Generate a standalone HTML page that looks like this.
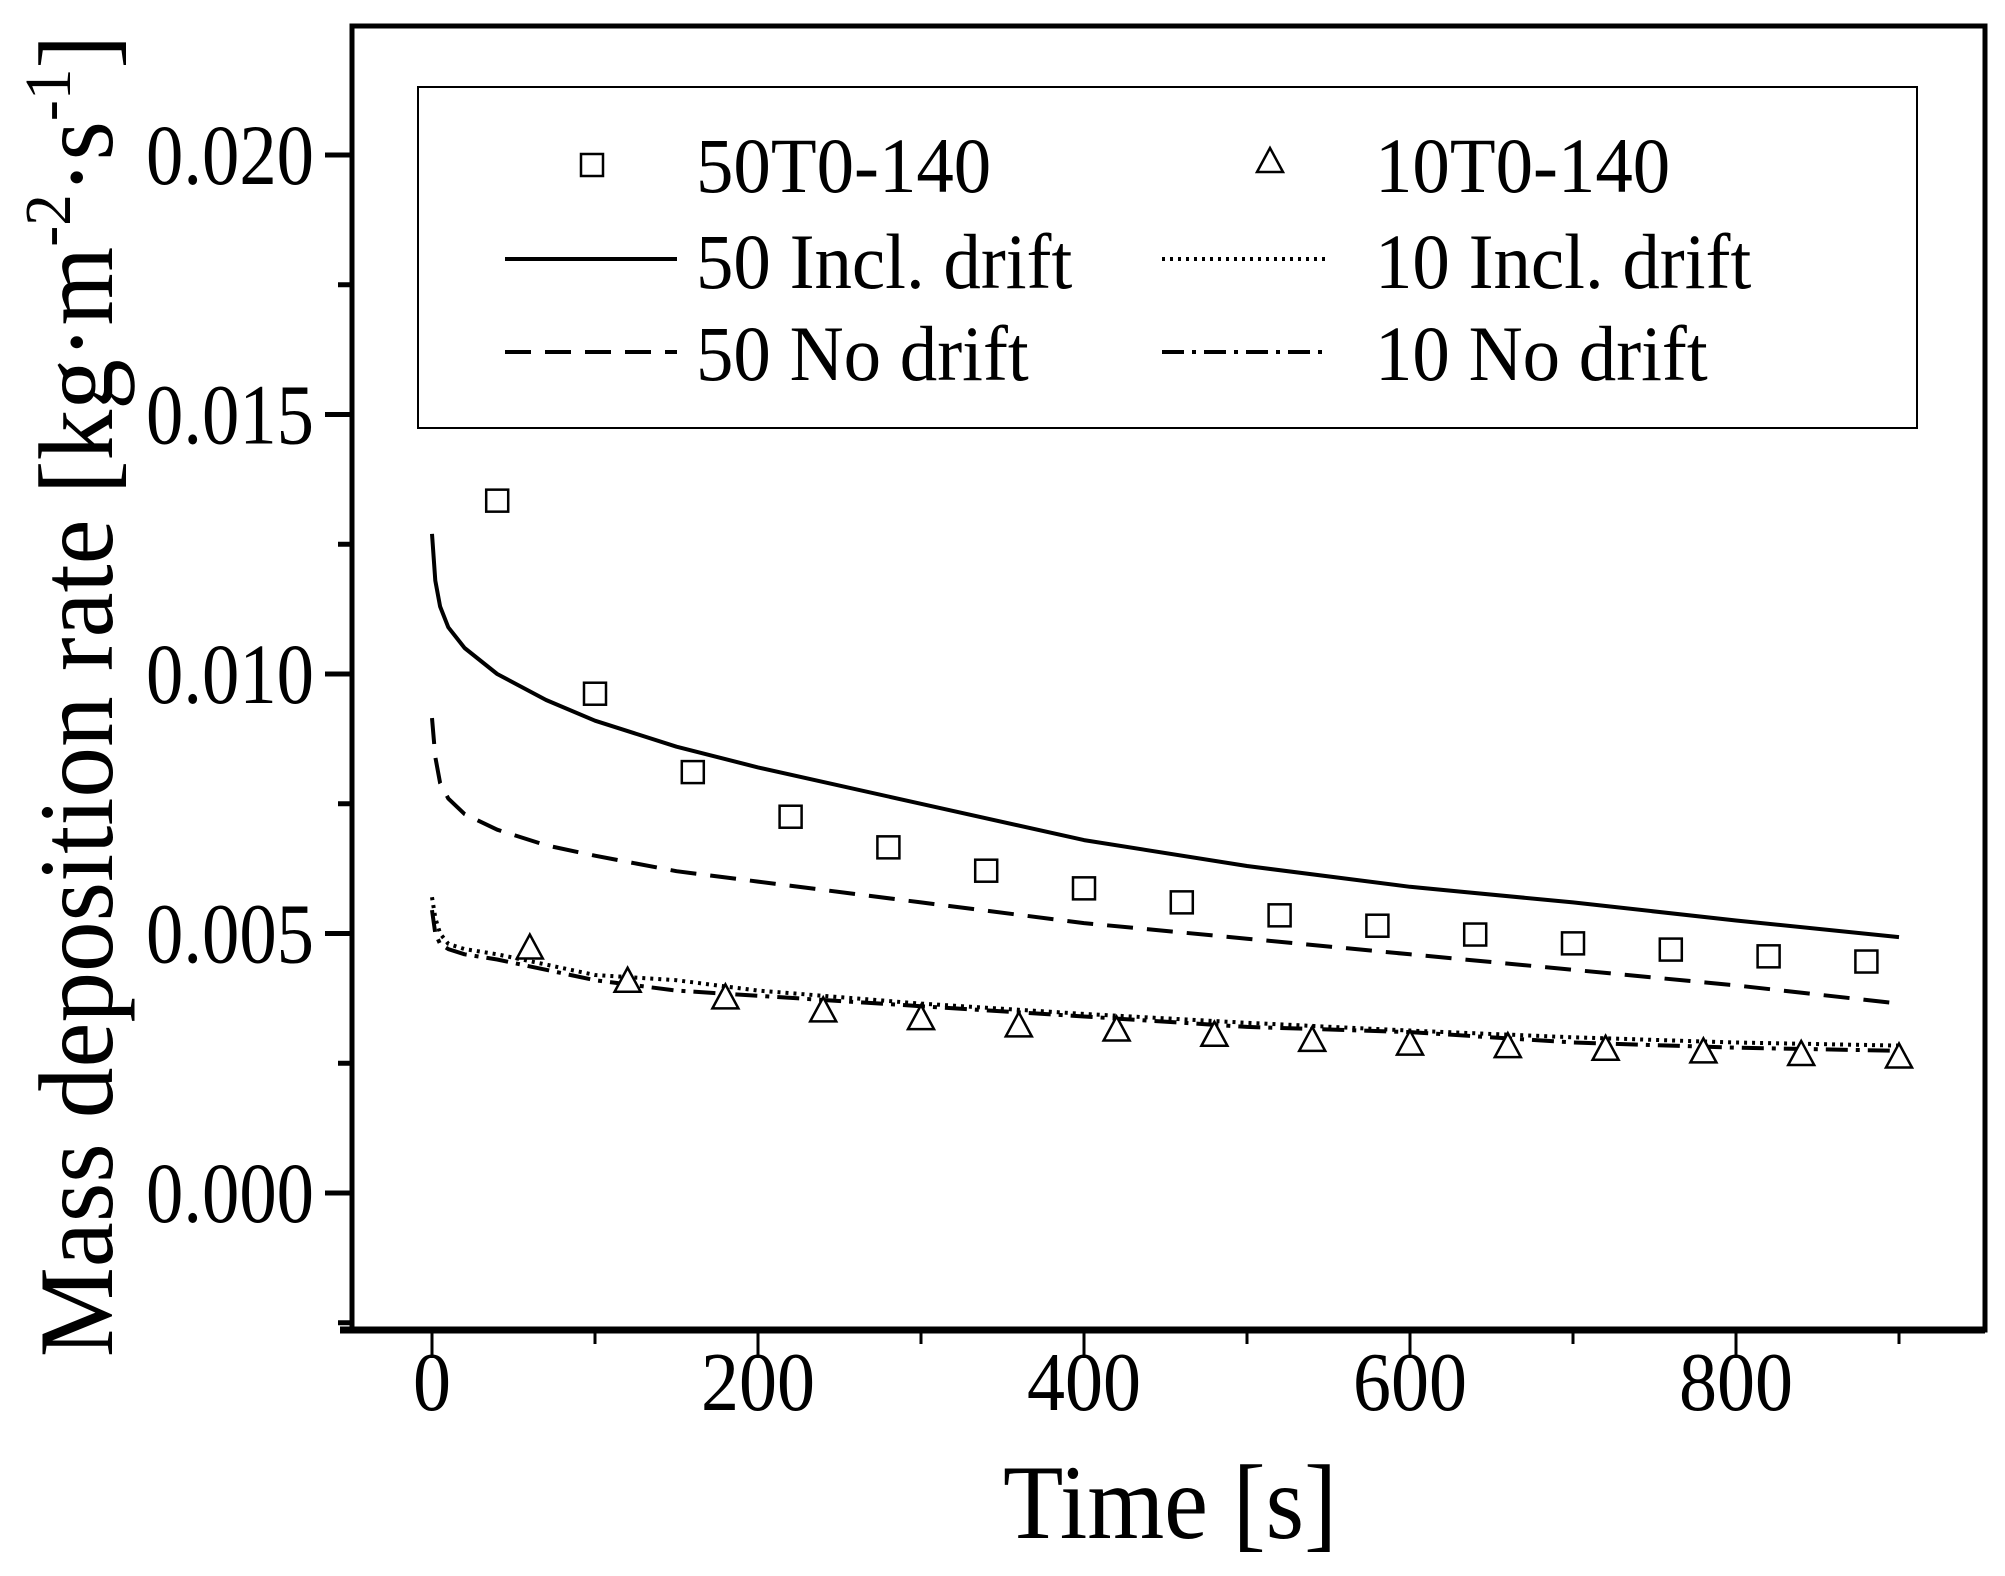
<!DOCTYPE html>
<html><head><meta charset="utf-8"><style>
html,body{margin:0;padding:0;background:#fff;}
svg text{font-family:"Liberation Serif",serif;fill:#000;}
</style></head><body>
<svg id="chart" width="2005" height="1571" viewBox="0 0 2005 1571" xmlns="http://www.w3.org/2000/svg">
<g id="plot"></g>
</svg>
<script>
const timesCurve = [0,2,5,10,20,40,70,100,150,200,300,400,500,600,700,800,900];
const incl50 = [0.0127,0.0118,0.0113,0.0109,0.0105,0.0100,0.0095,0.0091,0.0086,0.0082,0.0075,0.0068,0.0063,0.0059,0.0056,0.00525,0.00493];
const nodrift50 = [0.00915,0.0084,0.0079,0.0076,0.0073,0.0070,0.0067,0.0065,0.0062,0.0060,0.0056,0.0052,0.0049,0.0046,0.0043,0.0040,0.00365];
const incl10 = [0.0057,0.0053,0.0050,0.0048,0.0047,0.0046,0.0044,0.0042,0.0041,0.0039,0.00365,0.00345,0.00328,0.00313,0.0030,0.0029,0.00284];
const nodrift10 = [0.00545,0.0050,0.0048,0.0047,0.0046,0.0045,0.0043,0.0041,0.0039,0.0038,0.0036,0.0034,0.0032,0.0031,0.0029,0.0028,0.00274];
const timesSq = [40,100,160,220,280,340,400,460,520,580,640,700,760,820,880];
const exp50 = [0.01334,0.00962,0.00811,0.00725,0.00666,0.00621,0.00587,0.0056,0.00535,0.00515,0.00498,0.00481,0.00469,0.00456,0.00446];
const timesTri = [60,120,180,240,300,360,420,480,540,600,660,720,780,840,900];
const exp10 = [0.00471,0.00407,0.00375,0.0035,0.00335,0.00321,0.00313,0.00303,0.00293,0.00286,0.00281,0.00276,0.00271,0.00266,0.00261];
const xTicks = [0,200,400,600,800];
const xTickLabels = ["0","200","400","600","800"];
const yTicks = [0,0.005,0.010,0.015,0.020];
const yTickLabels = ["0.000","0.005","0.010","0.015","0.020"];

const NS="http://www.w3.org/2000/svg";
const svg=document.getElementById('chart');
const L=352,R=1985,T=26,B=1330;
const X0=432, XS=326/200;
const Y0=1193, YS=259.5/0.005;
function sx(t){return X0+t*XS;}
function sy(v){return Y0-v*YS;}
function el(tag,attrs,parent){const e=document.createElementNS(NS,tag);for(const k in attrs)e.setAttribute(k,attrs[k]);(parent||svg).appendChild(e);return e;}

const frame=el('rect',{x:L,y:T,width:R-L,height:B-T,fill:'none',stroke:'#000','stroke-width':5});


const bax=el('line',{x1:L-12,y1:B,x2:R,y2:B,stroke:'#000','stroke-width':7});



for(let t=0;t<=900;t+=100){
  const major=t%200===0;
  const tk=el('line',{x1:sx(t),y1:B,x2:sx(t),y2:B+(major?28:14),stroke:'#000','stroke-width':3});
  
  
}
xTicks.forEach((t,i)=>{
  const lab=xTickLabels[i];
  const tx=el('text',{x:sx(t),y:1410,'font-size':84,'text-anchor':'middle',textLength:lab.length*38,lengthAdjust:'spacingAndGlyphs'});
  tx.textContent=lab;
  
  
});
for(let k=-1;k<=9;k++){
  const v=k*0.0025;
  const yy=sy(v); if(yy<T||yy>B)continue;
  const major=k%2===0;
  const tk=el('line',{x1:L-(major?27:14),y1:yy,x2:L,y2:yy,stroke:'#000','stroke-width':5});
  
  
}
yTicks.forEach((v,i)=>{
  const tx=el('text',{x:146,y:sy(v)+29,'font-size':86,textLength:168,lengthAdjust:'spacingAndGlyphs'});
  tx.textContent=yTickLabels[i];
  
  
});
const xt=el('text',{x:1170,y:1538,'font-size':106,'text-anchor':'middle',textLength:334,lengthAdjust:'spacingAndGlyphs'});
xt.textContent='Time [s]';


const yt=el('text',{x:0,y:0,'font-size':106,'text-anchor':'middle',transform:'translate(112,696) rotate(-90) scale(0.955,1)'});
yt.innerHTML='Mass deposition rate [kg·m<tspan dy="-42" font-size="66">-2</tspan><tspan dy="42">·s</tspan><tspan dy="-42" font-size="66">-1</tspan><tspan dy="42">]</tspan>';



function curve(vals,dash,name){
  const d=timesCurve.map((t,i)=>(i?'L':'M')+sx(t).toFixed(1)+','+sy(vals[i]).toFixed(1)).join(' ');
  const p=el('path',{d:d,fill:'none',stroke:'#000','stroke-width':4,'stroke-dasharray':dash,'stroke-linejoin':'round'});
  
  
}
curve(incl50,'none','line-50-incl-drift');
curve(nodrift50,'26 14','line-50-no-drift');
curve(incl10,'3 5','line-10-incl-drift');
curve(nodrift10,'22 8 4 8','line-10-no-drift');

function square(cx,cy,name){
  const s=el('rect',{x:cx-11,y:cy-11,width:22,height:22,fill:'#fff',stroke:'#000','stroke-width':2.5});
  
  
}
function tri(cx,cy,name){
  const s=el('polygon',{points:`${cx},${cy-14} ${cx-13},${cy+10} ${cx+13},${cy+10}`,fill:'#fff',stroke:'#000','stroke-width':2.5});
  
  
}
timesSq.forEach((t,i)=>square(sx(t),sy(exp50[i]),'point-50t0-140'));
timesTri.forEach((t,i)=>tri(sx(t),sy(exp10[i]),'point-10t0-140'));

const lg=el('rect',{x:418,y:87,width:1499,height:341,fill:'#fff',stroke:'#000','stroke-width':2});


square(592,165,'legend-marker-50t0-140');
tri(1270,162,'legend-marker-10t0-140');
const rows=[[165,'50T0-140','10T0-140'],[261,'50 Incl. drift','10 Incl. drift'],[353,'50 No drift','10 No drift']];
rows.forEach(r=>{
  const a=el('text',{x:696,y:r[0]+27,'font-size':78,transform:`translate(696 0) scale(0.96 1) translate(-696 0)`});a.textContent=r[1];
  
  
  const b=el('text',{x:1375,y:r[0]+27,'font-size':78,transform:`translate(1375 0) scale(0.96 1) translate(-1375 0)`});b.textContent=r[2];
  
  
});
function lgLine(x1,x2,y,dash,name){
  const l=el('line',{x1:x1,y1:y,x2:x2,y2:y,stroke:'#000','stroke-width':4,'stroke-dasharray':dash});
  
  
}
lgLine(505,677,259,'none','legend-line-50-incl');
lgLine(505,677,352,'26 14','legend-line-50-no');
lgLine(1162,1330,259,'3 5','legend-line-10-incl');
lgLine(1162,1330,352,'22 8 4 8','legend-line-10-no');
</script>
</body></html>
